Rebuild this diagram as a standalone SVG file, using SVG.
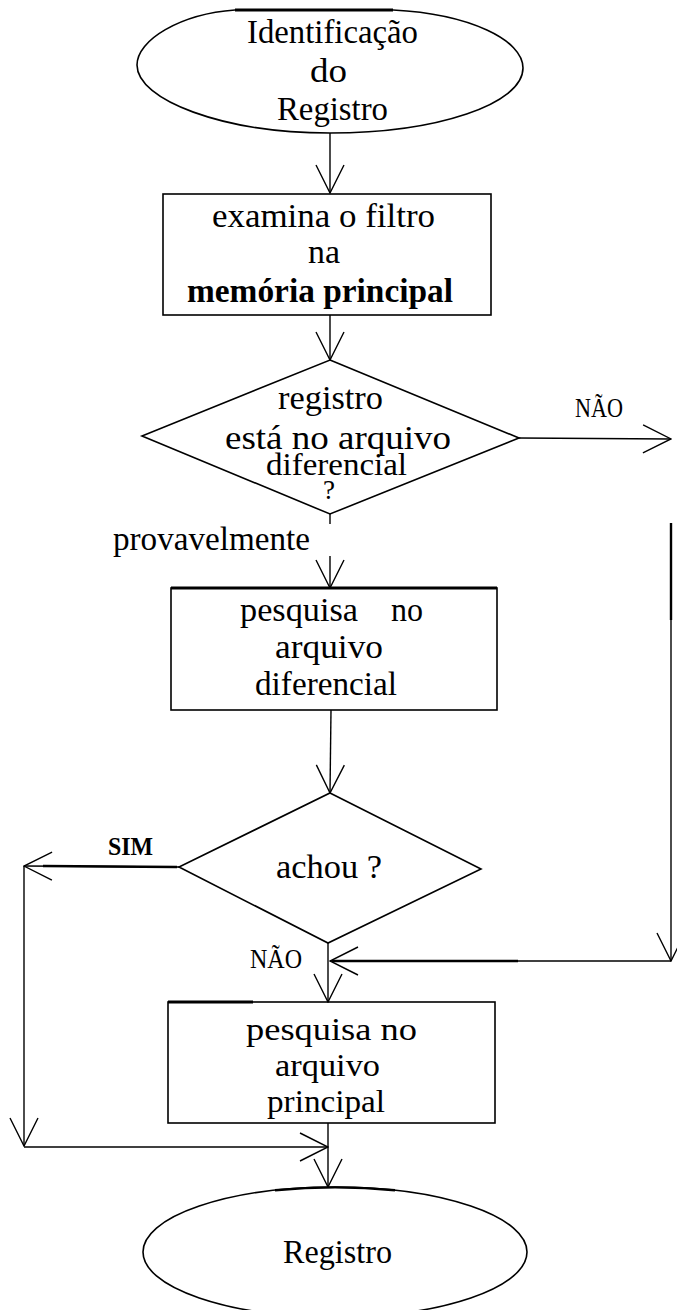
<svg xmlns="http://www.w3.org/2000/svg" width="677" height="1310" viewBox="0 0 677 1310">
  <defs>
    <style>
      .shape { fill: none; stroke: #000; stroke-width: 1.6; }
      .heavy { fill: none; stroke: #000; stroke-width: 3; }
      .edge { fill: none; stroke: #000; stroke-width: 1.4; }
      .edge-heavy { fill: none; stroke: #000; stroke-width: 2.4; }
      .arrow { fill: none; stroke: #000; stroke-width: 1.4; marker-end: url(#open-v); }
      .t { font-family: "Liberation Serif", "Times New Roman", serif; font-size: 34px; fill: #000; }
      .tb { font-family: "Liberation Serif", "Times New Roman", serif; font-size: 34px; font-weight: bold; fill: #000; }
      .lbl { font-family: "Liberation Serif", "Times New Roman", serif; font-size: 28px; fill: #000; }
      .lblb { font-family: "Liberation Serif", "Times New Roman", serif; font-size: 25px; font-weight: bold; fill: #000; }
    </style>
    <!-- open V arrowhead used on every connector -->
    <marker id="open-v" viewBox="0 0 30 30" refX="29" refY="15" markerWidth="30" markerHeight="30" markerUnits="userSpaceOnUse" orient="auto">
      <path d="M1,1 L29,15 L1,29" fill="none" stroke="#000" stroke-width="1.4"/>
    </marker>
  </defs>

  <rect x="0" y="0" width="677" height="1310" fill="#fff"/>

  <!-- start terminal -->
  <g id="start">
    <path class="shape" d="M235,10 L393,10 C470,14 523,40 523,68 C523,104 437,133 330,133 C223,133 137,100 137,65 C137,40 180,14 235,10 Z"/>
    <line class="heavy" x1="235" y1="10" x2="393" y2="10"/>
    <text class="t" x="247" y="43" textLength="171" lengthAdjust="spacingAndGlyphs">Identificação</text>
    <text class="t" x="310" y="82" textLength="37" lengthAdjust="spacingAndGlyphs">do</text>
    <text class="t" x="277" y="120" textLength="111" lengthAdjust="spacingAndGlyphs">Registro</text>
  </g>

  <!-- check filter in main memory -->
  <g id="examina-filtro">
    <rect class="shape" x="163" y="194" width="328" height="121"/>
    <text class="t" x="212" y="227" textLength="223" lengthAdjust="spacingAndGlyphs">examina o filtro</text>
    <text class="t" x="308" y="263" textLength="32" lengthAdjust="spacingAndGlyphs">na</text>
    <text class="tb" x="187" y="302" textLength="266" lengthAdjust="spacingAndGlyphs">memória principal</text>
  </g>

  <!-- decision: record in differential file? -->
  <g id="decisao-diferencial">
    <polygon class="shape" points="330,360 519,438 330,514 142,436"/>
    <text class="t" x="278" y="409" textLength="105" lengthAdjust="spacingAndGlyphs">registro</text>
    <text class="t" x="225" y="449" textLength="226" lengthAdjust="spacingAndGlyphs" style="font-size:33px">está no arquivo</text>
    <text class="t" x="266" y="475" textLength="141" lengthAdjust="spacingAndGlyphs" style="font-size:31px">diferencial</text>
    <text class="t" x="323" y="499" style="font-size:27px">?</text>
  </g>

  <!-- search differential file -->
  <g id="pesquisa-diferencial">
    <rect class="shape" x="171" y="588" width="326" height="122"/>
    <line class="heavy" x1="171" y1="588" x2="497" y2="588"/>
    <text class="t" y="621"><tspan x="240" textLength="118" lengthAdjust="spacingAndGlyphs">pesquisa</tspan> <tspan x="391" textLength="32" lengthAdjust="spacingAndGlyphs">no</tspan></text>
    <text class="t" x="275" y="658" textLength="108" lengthAdjust="spacingAndGlyphs">arquivo</text>
    <text class="t" x="255" y="695" textLength="142" lengthAdjust="spacingAndGlyphs">diferencial</text>
  </g>

  <!-- decision: found? -->
  <g id="decisao-achou">
    <polygon class="shape" points="330,793 481,869 328,943 179,867"/>
    <text class="t" x="276" y="878" textLength="106" lengthAdjust="spacingAndGlyphs">achou ?</text>
  </g>

  <!-- search main file -->
  <g id="pesquisa-principal">
    <rect class="shape" x="168" y="1002" width="327" height="121"/>
    <line class="heavy" x1="168" y1="1002" x2="253" y2="1002"/>
    <text class="t" x="246" y="1040" textLength="171" lengthAdjust="spacingAndGlyphs" style="font-size:32px">pesquisa no</text>
    <text class="t" x="275" y="1076" textLength="105" lengthAdjust="spacingAndGlyphs" style="font-size:32px">arquivo</text>
    <text class="t" x="267" y="1112" textLength="118" lengthAdjust="spacingAndGlyphs" style="font-size:32px">principal</text>
  </g>

  <!-- end terminal -->
  <g id="fim">
    <ellipse class="shape" cx="335" cy="1252" rx="192" ry="65"/>
    <path class="heavy" style="stroke-width:2.4" d="M275,1190.3 Q335,1184.5 395,1190.3"/>
    <text class="t" x="283" y="1263" textLength="109" lengthAdjust="spacingAndGlyphs">Registro</text>
  </g>

  <!-- connectors -->
  <g id="conectores">
    <path class="arrow" d="M330,133 V193"/>
    <path class="arrow" d="M330,315 V360"/>
    <path class="edge" d="M330,514 V524"/>
    <path class="arrow" d="M330,556 V588"/>
    <path class="arrow" d="M519,438 L671,439"/>
    <path class="arrow" d="M671,523 V961"/>
    <path class="edge-heavy" d="M671,523 V620"/>
    <path class="arrow" d="M671,961 H330"/>
    <path class="edge-heavy" d="M332,961 H518"/>
    <path class="arrow" d="M331,710 L330,793"/>
    <path class="arrow" d="M179,867 L24,866"/>
    <path class="edge-heavy" d="M177,867 L43,866"/>
    <path class="arrow" d="M24,866 V1146"/>
    <path class="arrow" d="M24,1147 H328"/>
    <path class="arrow" d="M328,943 V1002"/>
    <path class="arrow" d="M328,1123 V1187"/>
    <text class="lbl" x="575" y="417" textLength="48" lengthAdjust="spacingAndGlyphs">NÃO</text>
    <text class="t" x="113" y="550" textLength="197" lengthAdjust="spacingAndGlyphs" style="font-size:33px">provavelmente</text>
    <text class="lblb" x="108" y="855" textLength="45" lengthAdjust="spacingAndGlyphs">SIM</text>
    <text class="lbl" x="250" y="968" textLength="52" lengthAdjust="spacingAndGlyphs">NÃO</text>
  </g>
</svg>
